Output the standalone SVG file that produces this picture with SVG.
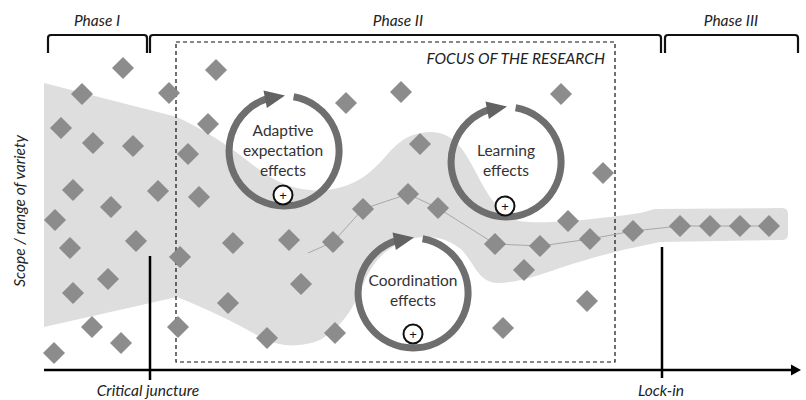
<svg xmlns="http://www.w3.org/2000/svg" xmlns:xlink="http://www.w3.org/1999/xlink" width="806" height="400" viewBox="0 0 806 400">
<style>
.lbl{font-family:Lato,"Liberation Sans",sans-serif;font-style:italic;font-size:15.5px;fill:#222;}
.clbl{font-family:Lato,"Liberation Sans",sans-serif;font-size:15.5px;fill:#333;text-anchor:middle;}
.plus{font-family:"Liberation Sans",sans-serif;font-size:13px;fill:#111;text-anchor:middle;}
.ring{fill:none;stroke:#6e6e6e;stroke-width:7;}
.head{fill:#626262;}
.pc{fill:#fff;stroke:#111;stroke-width:2;}
.dm{fill:#8c8c8c;stroke:#7c7c7c;stroke-width:0.8;}
.br{fill:none;stroke:#111;stroke-width:2.2;}
.ax{fill:none;stroke:#000;stroke-width:2.5;}
</style>
<defs>
<path id="dm" d="M0,-10.5 L10.5,0 L0,10.5 L-10.5,0 Z"/>
</defs>
<rect width="806" height="400" fill="#fff"/>
<!-- gray band -->
<path id="band" fill="#dedede" d="M44,83 L177,117 C200,128 220,140 240,155 C262,172 280,188 310,190 C345,192 365,180 385,157 C400,140 410,133 430,132 C452,132 462,147 472,165 C485,190 495,210 515,220 C535,226 600,219 640,213 L655,209 L782,208 Q788,208 788,214 L788,234 Q788,240 782,240 L660,242 C620,250 590,258 560,268 C535,277 510,284 495,283 C478,280 475,265 462,250 C448,238 430,234 410,239 C390,245 375,258 365,280 C355,305 345,325 320,340 C300,348 280,347 262,338 C240,325 210,310 177,297 L44,327 Z"/>
<!-- focus box -->
<g id="focus">
<rect x="176" y="42" width="439" height="320" fill="none" stroke="#111" stroke-width="1.2" stroke-dasharray="4 3"/>
<text class="lbl" x="605" y="64" text-anchor="end" font-size="14">FOCUS OF THE RESEARCH</text>
</g>
<!-- connectors -->
<g id="connectors">
<polyline fill="none" stroke="#a8a8a8" stroke-width="1" points="308,253 333,242 363,209 408,194 438,208 495,244 540,246 590,239 633,231 680,226 769,226"/>
</g>
<!-- diamonds -->
<g id="diamonds" class="dm">
<use href="#dm" x="123" y="68"/><use href="#dm" x="216" y="70"/><use href="#dm" x="82" y="94"/><use href="#dm" x="169" y="93"/>
<use href="#dm" x="346" y="103"/><use href="#dm" x="401" y="92"/><use href="#dm" x="561" y="94"/>
<use href="#dm" x="61" y="128"/><use href="#dm" x="208" y="124"/><use href="#dm" x="93" y="143"/><use href="#dm" x="133" y="146"/>
<use href="#dm" x="188" y="154"/><use href="#dm" x="420" y="144"/><use href="#dm" x="603" y="173"/>
<use href="#dm" x="73" y="190"/><use href="#dm" x="158" y="191"/><use href="#dm" x="199" y="197"/><use href="#dm" x="111" y="207"/>
<use href="#dm" x="55" y="220"/><use href="#dm" x="70" y="248"/><use href="#dm" x="136" y="241"/><use href="#dm" x="180" y="257"/>
<use href="#dm" x="108" y="279"/><use href="#dm" x="73" y="293"/><use href="#dm" x="92" y="327"/><use href="#dm" x="178" y="327"/>
<use href="#dm" x="121" y="343"/><use href="#dm" x="54" y="353"/>
<use href="#dm" x="233" y="243"/><use href="#dm" x="289" y="240"/><use href="#dm" x="333" y="242"/><use href="#dm" x="363" y="209"/>
<use href="#dm" x="408" y="194"/><use href="#dm" x="438" y="208"/><use href="#dm" x="301" y="284"/><use href="#dm" x="228" y="303"/>
<use href="#dm" x="267" y="338"/><use href="#dm" x="335" y="333"/>
<use href="#dm" x="495" y="244"/><use href="#dm" x="540" y="246"/><use href="#dm" x="524" y="270"/><use href="#dm" x="568" y="221"/>
<use href="#dm" x="590" y="239"/><use href="#dm" x="633" y="231"/><use href="#dm" x="680" y="226"/><use href="#dm" x="710" y="226"/>
<use href="#dm" x="740" y="226"/><use href="#dm" x="769" y="226"/><use href="#dm" x="587" y="301"/><use href="#dm" x="503" y="328"/>
</g>
<!-- Adaptive expectation effects (cx 284, cy 151) -->
<g id="adaptive">
<path class="ring" d="M293.6,96.8 A55,55 0 1 1 267.9,98.4"/>
<polygon class="head" points="265.2,99.3 266.9,108.1 285,95.5 263.5,90.5"/>
<text class="clbl" x="283" y="136">Adaptive</text>
<text class="clbl" x="283" y="156">expectation</text>
<text class="clbl" x="283" y="176">effects</text>
<circle class="pc" cx="283" cy="195" r="9.5"/>
<text class="plus" x="283" y="199.5">+</text>
</g>
<!-- Learning effects (cx 506, cy 162) -->
<g id="learning">
<path class="ring" d="M515.6,107.8 A55,55 0 1 1 489.9,109.4"/>
<polygon class="head" points="487.2,110.3 488.9,119.1 507,106.5 485.5,101.5"/>
<text class="clbl" x="506" y="156">Learning</text>
<text class="clbl" x="506" y="176">effects</text>
<circle class="pc" cx="505" cy="206" r="9.5"/>
<text class="plus" x="505" y="210.5">+</text>
</g>
<!-- Coordination effects (cx 413, cy 293) -->
<g id="coordination">
<path class="ring" d="M422.6,238.8 A55,55 0 1 1 396.9,240.4"/>
<polygon class="head" points="394.2,241.3 395.9,250.1 414,237.5 392.5,232.5"/>
<text class="clbl" x="413" y="286">Coordination</text>
<text class="clbl" x="413" y="306">effects</text>
<circle class="pc" cx="413" cy="334" r="9.5"/>
<text class="plus" x="413" y="338.5">+</text>
</g>
<!-- phases -->
<g id="phase1">
<path class="br" d="M48,53 V38 Q48,35 51,35 H144 Q147,35 147,38 V53"/>
<text class="lbl" x="97" y="26" text-anchor="middle">Phase I</text>
</g>
<g id="phase2">
<path class="br" d="M150,53 V38 Q150,35 153,35 H658 Q661,35 661,38 V53"/>
<text class="lbl" x="398" y="26" text-anchor="middle">Phase II</text>
</g>
<g id="phase3">
<path class="br" d="M665,53 V38 Q665,35 668,35 H795 Q798,35 798,38 V53"/>
<text class="lbl" x="731" y="26" text-anchor="middle">Phase III</text>
</g>
<!-- axes -->
<g id="axis">
<path class="ax" d="M44,370 H794"/>
<polygon points="791,364.5 801,370 791,375.5" fill="#000"/>
<text class="lbl" transform="translate(25,211) rotate(-90)" text-anchor="middle" font-size="16">Scope / range of variety</text>
</g>
<g id="critical">
<path class="ax" d="M150,256 V380"/>
<text class="lbl" x="148" y="396" text-anchor="middle">Critical juncture</text>
</g>
<g id="lockin">
<path class="ax" d="M662,247 V378"/>
<text class="lbl" x="661" y="396" text-anchor="middle">Lock-in</text>
</g>
</svg>
